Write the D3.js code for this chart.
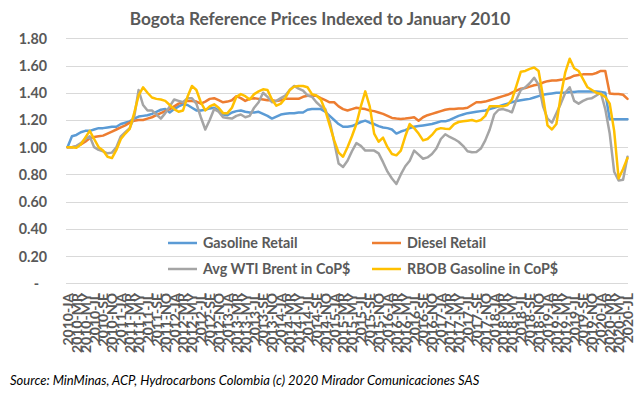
<!DOCTYPE html>
<html>
<head>
<meta charset="utf-8">
<script src="https://cdn.jsdelivr.net/npm/d3@7"></script>
<style>
  html, body { margin: 0; padding: 0; background: #fff; }
  svg { display: block; font-family: Lato, "Open Sans", sans-serif; }
</style>
</head>
<body>
<svg id="chart" width="640" height="395"></svg>
<script>
// ---- data ----
const years = [2010, 2011, 2012, 2013, 2014, 2015, 2016, 2017, 2018, 2019, 2020];
const monthCodes = ["JA","FE","MR","AP","MY","JN","JL","AU","SE","OC","NO","DE"];
const lastMonthCount = 7; // 2020 runs Jan..Jul
const categories = [];
years.forEach(y => monthCodes.forEach((m, k) => {
  if (y < 2020 || k < lastMonthCount) categories.push(y + "-" + m);
}));
const tickLabels = categories.filter((d, i) => i % 2 === 0);
const yTicks = [0, 0.2, 0.4, 0.6, 0.8, 1.0, 1.2, 1.4, 1.6, 1.8];

const gasolineRetail = [1.00,1.08,1.09,1.11,1.12,1.12,1.13,1.14,1.14,1.145,1.15,1.15,
 1.17,1.18,1.19,1.21,1.225,1.23,1.235,1.245,1.26,1.275,1.28,1.255,
 1.28,1.30,1.315,1.31,1.29,1.27,1.27,1.275,1.285,1.29,1.27,1.24,
 1.235,1.255,1.265,1.27,1.26,1.255,1.255,1.26,1.245,1.23,1.21,1.225,
 1.24,1.245,1.25,1.25,1.255,1.255,1.275,1.28,1.28,1.28,1.26,1.23,
 1.20,1.17,1.15,1.15,1.155,1.17,1.185,1.195,1.18,1.17,1.155,1.145,
 1.14,1.13,1.10,1.115,1.125,1.14,1.15,1.155,1.16,1.165,1.17,1.18,
 1.19,1.19,1.20,1.215,1.23,1.24,1.25,1.255,1.26,1.265,1.27,1.28,
 1.29,1.30,1.31,1.32,1.33,1.34,1.345,1.35,1.355,1.365,1.375,1.385,
 1.39,1.395,1.40,1.40,1.40,1.405,1.405,1.41,1.41,1.41,1.41,1.41,
 1.405,1.40,1.205,1.205,1.205,1.205,1.205];

const dieselRetail = [1.00,1.00,1.005,1.02,1.04,1.065,1.075,1.08,1.085,1.10,1.115,1.13,
 1.145,1.16,1.18,1.195,1.20,1.20,1.21,1.22,1.235,1.25,1.265,1.28,
 1.30,1.32,1.33,1.34,1.34,1.335,1.32,1.335,1.355,1.36,1.345,1.33,
 1.335,1.345,1.375,1.36,1.34,1.355,1.36,1.355,1.35,1.345,1.345,1.34,
 1.345,1.355,1.355,1.355,1.355,1.37,1.378,1.378,1.378,1.36,1.345,1.33,
 1.33,1.30,1.28,1.27,1.28,1.29,1.285,1.28,1.27,1.265,1.255,1.245,
 1.23,1.215,1.21,1.207,1.21,1.215,1.22,1.195,1.22,1.235,1.245,1.255,
 1.265,1.275,1.28,1.28,1.285,1.285,1.29,1.31,1.33,1.33,1.335,1.345,
 1.355,1.365,1.375,1.385,1.40,1.415,1.43,1.435,1.445,1.455,1.46,1.475,
 1.485,1.49,1.49,1.495,1.50,1.51,1.525,1.53,1.535,1.535,1.535,1.545,
 1.56,1.56,1.395,1.39,1.39,1.385,1.355];

const avgWtiBrent = [1.00,1.00,1.01,1.03,1.06,1.08,1.00,0.98,0.97,0.955,0.96,1.00,
 1.08,1.11,1.14,1.22,1.42,1.31,1.27,1.27,1.24,1.21,1.25,1.30,
 1.35,1.34,1.33,1.36,1.36,1.32,1.22,1.13,1.20,1.28,1.26,1.22,
 1.215,1.21,1.23,1.24,1.22,1.23,1.29,1.33,1.40,1.37,1.33,1.34,
 1.36,1.38,1.42,1.45,1.43,1.415,1.38,1.37,1.33,1.30,1.28,1.19,
 1.04,0.88,0.855,0.90,0.97,1.03,1.01,0.975,0.975,0.975,0.955,0.89,
 0.82,0.77,0.73,0.80,0.86,0.90,0.975,0.945,0.915,0.925,0.95,0.99,
 1.06,1.095,1.075,1.06,1.04,1.01,0.97,0.963,0.965,0.99,1.05,1.13,
 1.24,1.275,1.28,1.27,1.256,1.35,1.42,1.44,1.47,1.51,1.46,1.30,
 1.21,1.18,1.25,1.32,1.40,1.44,1.34,1.32,1.34,1.355,1.36,1.38,
 1.40,1.28,1.10,0.82,0.755,0.76,0.93];

const rbobGasoline = [1.00,1.00,0.995,1.02,1.07,1.12,1.06,1.00,0.975,0.93,0.92,0.98,
 1.06,1.10,1.135,1.25,1.38,1.44,1.40,1.365,1.355,1.35,1.34,1.31,
 1.28,1.26,1.27,1.37,1.45,1.42,1.33,1.27,1.30,1.315,1.29,1.25,
 1.25,1.29,1.37,1.39,1.375,1.35,1.39,1.41,1.425,1.42,1.35,1.305,
 1.32,1.36,1.42,1.445,1.45,1.45,1.44,1.39,1.38,1.35,1.27,1.16,
 1.05,0.96,0.93,1.00,1.08,1.17,1.30,1.41,1.30,1.10,1.04,1.07,
 1.00,0.95,0.94,0.975,1.08,1.17,1.14,1.10,1.05,1.06,1.09,1.13,
 1.14,1.135,1.134,1.17,1.185,1.19,1.195,1.20,1.19,1.20,1.23,1.30,
 1.30,1.30,1.30,1.31,1.35,1.45,1.555,1.56,1.575,1.585,1.56,1.37,
 1.16,1.13,1.17,1.38,1.55,1.65,1.58,1.56,1.50,1.44,1.42,1.40,
 1.39,1.37,1.32,1.12,0.77,0.84,0.92];

const seriesNames = ["Gasoline Retail", "Diesel Retail", "Avg WTI Brent in CoP$", "RBOB Gasoline in CoP$"];
const seriesColors = ["#5B9BD5", "#ED7D31", "#A5A5A5", "#FFC000"];
const seriesValues = [gasolineRetail, dieselRetail, avgWtiBrent, rbobGasoline];
const drawOrder = [0, 1, 2, 3];

// ---- chart ----
const svg = d3.select("#chart");
const textColor = "#595959";

const x = d3.scalePoint().domain(categories).range([67.5, 627.5]);
const y = d3.scaleLinear().domain([0, 1.8]).range([283.3, 38.3]);

// title
svg.append("text")
  .attr("x", 320).attr("y", 25)
  .attr("text-anchor", "middle")
  .attr("font-size", 17.3).attr("font-weight", "bold")
  .attr("fill", textColor)
  .text("Bogota Reference Prices Indexed to January 2010");

// gridlines
svg.append("g").selectAll("line").data(yTicks).join("line")
  .attr("x1", 66).attr("x2", 628)
  .attr("y1", d => Math.round(y(d)) + 0.5).attr("y2", d => Math.round(y(d)) + 0.5)
  .attr("stroke", "#D9D9D9").attr("stroke-width", 1);

// y axis labels
const yAxis = d3.axisLeft(y).tickValues(yTicks).tickSize(0).tickPadding(0)
  .tickFormat(d => d === 0 ? "-" : d3.format(".2f")(d));
const gy = svg.append("g").attr("transform", "translate(47,0)").call(yAxis);
gy.select(".domain").remove();
gy.selectAll("text")
  .attr("font-family", "Lato, 'Open Sans', sans-serif")
  .attr("font-size", 14.3).attr("font-weight", "bold").attr("fill", textColor)
  .attr("dy", "0.35em")
  .attr("x", d => d === 0 ? -8 : 0);

// x axis labels (every other month)
const xAxis = d3.axisBottom(x).tickValues(tickLabels).tickSize(0).tickPadding(0);
const gx = svg.append("g").attr("transform", "translate(0,293)").call(xAxis);
gx.select(".domain").remove();
gx.selectAll("text")
  .attr("font-family", "Lato, 'Open Sans', sans-serif")
  .attr("font-size", 14).attr("font-weight", "bold").attr("fill", textColor)
  .attr("text-anchor", "end")
  .attr("transform", "rotate(-90)")
  .attr("x", 0).attr("y", 0).attr("dy", "0.35em");

// lines
const line = d3.line().x((d, i) => x(categories[i])).y(d => y(d));
svg.append("g").selectAll("path").data(drawOrder).join("path")
  .attr("d", k => line(seriesValues[k]))
  .attr("fill", "none")
  .attr("stroke", k => seriesColors[k])
  .attr("stroke-width", 2.5)
  .attr("stroke-linejoin", "round").attr("stroke-linecap", "round");

// legend
const legendPos = [[168, 243], [372, 243], [168, 269], [372, 269]];
const lg = svg.append("g").selectAll("g").data(seriesNames).join("g")
  .attr("transform", (d, i) => `translate(${legendPos[i][0]},${legendPos[i][1]})`);
lg.append("line").attr("x1", 0).attr("x2", 29).attr("y1", 0).attr("y2", 0)
  .attr("stroke", (d, i) => seriesColors[i]).attr("stroke-width", 2.5);
lg.append("text").attr("x", 35).attr("y", 0).attr("dy", "0.35em")
  .attr("font-size", 14.3).attr("font-weight", "bold").attr("fill", textColor)
  .text(d => d);

// source
svg.append("text")
  .attr("x", 10).attr("y", 385)
  .attr("font-size", 13).attr("font-style", "italic").attr("fill", "#000")
  .text("Source: MinMinas, ACP, Hydrocarbons Colombia (c) 2020 Mirador Comunicaciones SAS");
</script>
</body>
</html>
